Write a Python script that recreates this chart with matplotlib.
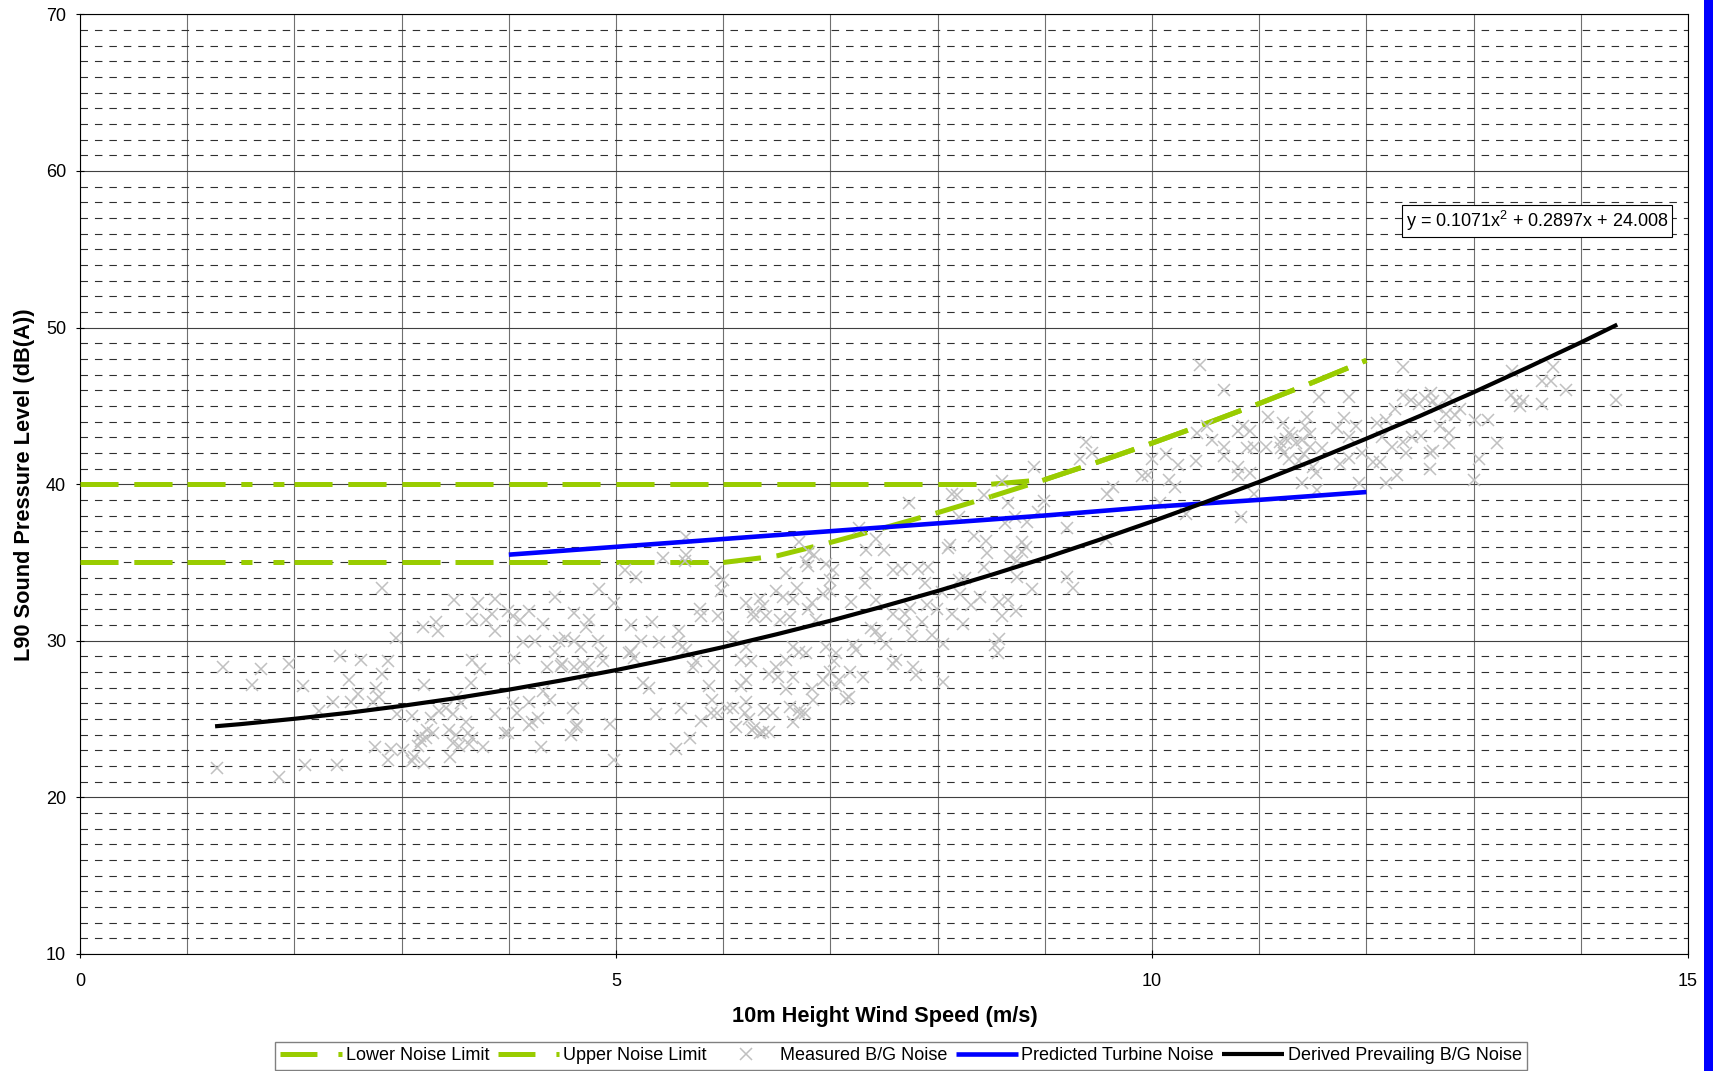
import matplotlib
matplotlib.use('Agg')
import matplotlib.pyplot as plt
from matplotlib.collections import LineCollection
from matplotlib.lines import Line2D
from matplotlib.patches import Rectangle
from matplotlib.ticker import MultipleLocator

plt.rcParams['font.family'] = ['Liberation Sans', 'DejaVu Sans']
plt.rcParams['lines.scale_dashes'] = False
plt.rcParams['mathtext.fontset'] = 'custom'
plt.rcParams['mathtext.rm'] = 'Liberation Sans'
plt.rcParams['mathtext.it'] = 'Liberation Sans'

# ---------------- data ----------------
limit_x = [0, 0.5, 1, 1.5, 2, 2.5, 3, 3.5, 4, 4.5, 5, 5.5, 6, 6.5, 7, 7.5, 8,
           8.5, 9, 9.5, 10, 10.5, 11, 11.5, 12]
lower_limit = [35, 35, 35, 35, 35, 35, 35, 35, 35, 35, 35, 35, 35, 35.42, 36.28,
               37.21, 38.18, 39.21, 40.29, 41.43, 42.62, 43.86, 45.15, 46.50, 47.91]
upper_limit = [40, 40, 40, 40, 40, 40, 40, 40, 40, 40, 40, 40, 40, 40, 40, 40, 40,
               40, 40.29, 41.43, 42.62, 43.86, 45.15, 46.50, 47.91]

turbine_x = [4, 5, 6, 7, 8, 9, 10, 11, 12]
turbine_y = [35.5, 36.0, 36.5, 37.0, 37.5, 38.0, 38.55, 39.0, 39.5]

bg_x = [1.26, 1.5, 2, 2.5, 3, 3.5, 4, 4.5, 5, 5.5, 6, 6.5, 7, 7.5, 8, 8.5, 9,
        9.5, 10, 10.5, 11, 11.5, 12, 12.5, 13, 13.5, 14, 14.34]
bg_y = [24.54, 24.68, 25.02, 25.40, 25.84, 26.33, 26.88, 27.48, 28.13, 28.84,
        29.60, 30.42, 31.28, 32.21, 33.18, 34.21, 35.29, 36.43, 37.62, 38.86,
        40.15, 41.50, 42.91, 44.36, 45.87, 47.44, 49.05, 50.19]

meas_x = [
    1.33, 1.69, 1.60, 1.95, 1.28, 1.86, 2.08, 2.10, 2.40, 2.43, 2.62, 2.87, 2.51, 2.82,
    2.76, 2.36, 2.53, 2.59, 2.23, 2.73, 2.79, 2.95, 2.82, 2.96, 2.75, 2.90, 2.87, 3.01,
    3.10, 3.21, 3.20, 3.32, 3.34, 3.49, 3.66, 3.71, 3.87, 3.84, 3.79, 3.87, 3.66, 3.73,
    3.65, 3.35, 3.41, 3.48, 3.55, 3.51, 3.27, 3.24, 3.17, 3.23, 3.29, 3.15, 3.18, 3.12,
    3.21, 3.10, 3.45, 3.44, 3.51, 3.48, 3.54, 3.62, 3.66, 3.63, 3.76, 3.60, 3.87, 3.96,
    3.99, 4.04, 4.10, 4.19, 4.32, 4.43, 4.61, 4.13, 4.24, 4.47, 4.52, 4.61, 4.05, 4.36,
    4.49, 4.43, 4.61, 4.32, 4.38, 4.19, 4.04, 4.08, 4.22, 4.27, 4.19, 3.99, 4.30, 4.58,
    4.63,
    4.75, 4.72, 4.67, 4.84, 4.98, 4.50, 4.69, 4.75, 4.86, 4.88, 4.83, 4.69, 4.60, 4.94,
    5.08, 5.19, 5.14, 5.34, 5.23, 5.40, 5.14, 5.17, 5.12, 5.25, 5.31, 5.37, 5.58, 5.62,
    5.65, 5.59, 5.75, 5.72, 5.79, 5.78, 5.95, 5.91, 5.65, 5.65, 5.64, 5.44, 5.61, 5.87,
    5.90, 5.79, 5.94, 5.89, 5.93, 6.00, 5.98, 6.09, 6.21, 6.28, 6.34, 6.37, 6.29, 6.40,
    6.21, 6.17, 6.26, 6.21, 6.17, 6.21, 6.04, 6.09, 6.20, 6.12, 6.27, 6.34, 6.38, 6.46,
    6.43, 6.49, 6.51, 6.59, 6.65, 6.62, 6.71, 6.65, 6.72, 6.49, 6.59, 6.69, 6.65, 6.56,
    6.53, 6.62, 6.65, 6.71, 6.77, 6.59, 6.71, 6.80, 6.85, 6.77, 6.79, 6.93, 6.83, 6.79,
    6.87, 6.83, 6.93, 6.96, 7.05, 7.03, 7.00, 6.96, 7.02, 7.00, 7.00, 7.19, 7.21, 7.24,
    7.18, 7.30, 7.15, 7.05, 7.08, 7.27, 7.33, 7.33, 7.32, 7.43, 7.50, 7.43, 7.38, 7.43,
    7.46, 7.52, 7.58, 7.58, 7.61, 7.58, 7.77, 7.80, 8.05,
    4.64, 4.98, 5.69, 5.56, 6.24, 6.29, 6.37, 6.43, 6.76, 6.84, 7.17,
    10.45, 10.67, 10.42, 10.51, 10.56, 10.67, 10.67, 10.41, 10.80, 10.85, 10.91, 10.89,
    10.80, 10.80, 10.83, 9.38, 9.44, 9.33, 8.90, 9.58, 9.64, 9.91, 9.96, 10.00, 10.13,
    10.24, 10.16, 10.21, 10.07, 10.32, 9.21, 9.57, 9.21, 9.26, 8.60, 8.13, 8.18, 8.43,
    8.66, 8.99, 8.94, 8.72, 8.83, 8.63, 8.20, 7.73, 8.34, 8.45, 8.12, 8.10, 8.46, 8.79,
    8.82, 8.79, 8.68, 8.74, 8.43, 8.74, 8.88, 7.82, 7.91, 7.67, 7.88, 8.20, 8.26, 8.04,
    8.21, 8.40, 8.31, 8.57, 8.66, 8.73, 8.60, 7.90, 7.74, 7.70, 7.99, 8.13, 8.24, 7.85,
    7.69, 7.95, 7.76, 8.05, 8.57, 8.54, 8.56,
    12.34, 11.56, 11.84, 11.08, 11.22, 11.28, 11.31, 11.25, 11.19, 11.20, 11.23, 11.28,
    11.34, 11.40, 11.45, 11.43, 11.47, 11.47, 11.42, 11.37, 10.95, 11.06, 10.91, 10.95,
    11.40, 11.54, 11.50, 11.53, 11.59, 11.73, 11.79, 11.84, 11.90, 11.75, 11.84, 11.93,
    11.96, 12.06, 12.13, 12.18, 12.29, 12.10, 12.18, 12.15, 12.24, 12.34, 12.37, 12.27,
    12.34, 12.42, 12.49, 12.55, 12.62, 12.60, 12.66, 12.77, 12.43, 12.51, 12.59, 12.62,
    12.59, 12.69, 12.77, 12.77, 12.74, 12.83, 12.87, 13.01, 13.13, 13.22, 13.05, 13.00,
    13.36, 13.74, 13.64, 13.72, 13.86, 13.35, 13.40, 13.46, 13.43, 13.64, 14.33,
]
meas_y = [
    28.3, 28.2, 27.2, 28.55, 21.9, 21.3, 27.1, 22.1, 22.1, 29.0, 28.8, 28.7, 27.5, 27.9,
    27.0, 26.1, 26.1, 26.6, 25.5, 26.1, 26.4, 30.2, 33.4, 25.3, 23.2, 23.1, 22.4, 23.0,
    25.2, 27.2, 30.9, 31.2, 30.6, 32.6, 31.4, 32.4, 32.7, 31.7, 31.3, 30.6, 28.8, 28.2,
    27.3, 25.5, 25.7, 25.3, 26.0, 26.4, 25.1, 24.3, 23.9, 23.8, 24.1, 23.3, 23.6, 22.6,
    22.2, 22.3, 22.6, 24.3, 24.0, 23.5, 23.3, 24.1, 23.8, 23.4, 23.2, 24.8, 25.3, 24.1,
    31.9, 31.6, 31.3, 31.9, 31.1, 32.8, 31.8, 29.9, 30.0, 30.0, 30.2, 30.0, 28.9, 28.3,
    28.4, 29.3, 28.3, 26.8, 26.2, 26.1, 26.0, 25.4, 24.8, 25.1, 24.6, 24.1, 23.2, 24.0,
    24.5,
    31.3, 30.9, 29.6, 33.3, 32.4, 28.55, 28.55, 28.3, 29.2, 28.7, 30.0, 27.3, 25.7, 24.7,
    34.5, 34.1, 31.0, 31.2, 30.0, 29.9, 29.3, 28.9, 29.2, 27.3, 27.0, 25.3, 29.9, 29.6,
    29.4, 30.6, 28.7, 28.3, 31.6, 32.0, 31.6, 28.4, 36.6, 35.5, 35.1, 35.3, 25.7, 27.1,
    26.2, 24.9, 25.4, 25.4, 34.4, 33.9, 33.2, 30.25, 32.4, 31.85, 32.7, 32.2, 31.5, 31.6,
    29.6, 28.8, 28.7, 27.5, 27.1, 26.1, 25.7, 25.7, 25.4, 24.5, 24.3, 24.1, 25.6, 25.4,
    27.9, 28.3, 27.7, 26.9, 27.7, 25.8, 25.6, 24.8, 25.3, 33.2, 34.3, 33.4, 32.7, 32.8,
    31.3, 31.5, 29.6, 29.3, 29.2, 28.8, 36.3, 35.7, 35.5, 35.0, 34.8, 33.0, 32.4, 32.0,
    31.3, 26.9, 27.5, 29.6, 29.2, 28.7, 28.0, 34.9, 34.5, 33.9, 33.2, 32.5, 29.7, 29.4,
    28.0, 27.7, 26.3, 27.1, 27.5, 37.2, 35.8, 34.3, 33.7, 36.5, 35.8, 32.6, 30.8, 30.6,
    30.15, 29.8, 34.5, 31.7, 28.8, 28.55, 28.3, 27.8, 27.4,
    24.6, 22.4, 23.8, 23.1, 25.0, 24.4, 24.2, 24.2, 25.4, 26.2, 26.4,
    47.6, 46.0, 43.3, 43.7, 42.8, 42.4, 41.8, 41.5, 43.4, 43.7, 43.4, 42.3,
    41.1, 40.6, 37.9, 42.7, 42.0, 41.6, 41.1, 39.4, 39.8, 40.5, 40.6, 41.6, 41.9,
    41.2, 40.3, 39.8, 38.8, 38.1, 37.2, 36.5, 34.1, 33.4, 40.2, 39.4, 39.3, 39.3,
    38.8, 38.9, 38.2, 37.9, 37.6, 37.5, 37.9, 38.8, 36.7, 36.4, 36.1, 35.9, 35.6, 36.3,
    36.0, 35.7, 35.4, 35.1, 34.7, 34.1, 33.3, 34.6, 34.7, 34.6, 33.7, 33.9, 34.0, 33.1,
    33.0, 32.8, 32.3, 32.5, 32.6, 31.9, 31.6, 32.3, 32.1, 31.7, 32.0, 31.7, 31.1, 31.2,
    31.1, 30.4, 30.3, 29.8, 30.1, 29.7, 29.2,
    47.5, 45.6, 45.6, 44.3, 43.9, 43.3, 43.1, 42.9, 42.7, 42.3, 42.0, 41.6,
    42.6, 42.8, 44.3, 43.7, 43.2, 42.4, 41.9, 41.5, 42.4, 42.4, 40.7, 39.4,
    40.1, 39.6, 41.1, 40.7, 42.3, 43.6, 44.2, 43.0, 43.7, 41.3, 41.7, 40.1,
    42.0, 41.4, 41.4, 40.1, 40.6, 43.9, 44.1, 43.0, 42.4, 42.7, 42.0, 44.8,
    45.7, 45.4, 45.1, 45.5, 45.3, 45.8, 44.9, 45.6, 43.0, 43.1, 42.0, 42.1,
    41.0, 43.7, 43.3, 42.6, 44.5, 44.4, 44.8, 44.1, 44.1, 42.6, 41.6, 40.3,
    47.2, 47.5, 46.6, 46.6, 46.0, 45.7, 45.3, 45.3, 45.0, 45.1, 45.4,
]

x_ticks = [0, 5, 10, 15]
y_ticks = [10, 20, 30, 40, 50, 60, 70]
equation = 'y = 0.1071x$^{2}$ + 0.2897x + 24.008'
labels = ['Lower Noise Limit', 'Upper Noise Limit', 'Measured B/G Noise',
          'Predicted Turbine Noise', 'Derived Prevailing B/G Noise']

# ---------------- styles ----------------
GREEN = '#99CC00'
GRAY_X = '#C0C0C0'
LONG = (0, (27.4, 11.2))
SPECIAL = (0, (7.9, 15.1, 7.9, 10.0))

W, H = 1713, 1071
fig = plt.figure(figsize=(W / 100, H / 100), dpi=100)
ax = fig.add_axes([80 / W, 117 / H, 1608 / W, 939.6 / H])

ax.set_xlim(0, 15)
ax.set_ylim(10, 70)
ax.set_xticks(x_ticks)
ax.set_yticks(y_ticks)
ax.xaxis.set_minor_locator(MultipleLocator(1))
ax.yaxis.set_minor_locator(MultipleLocator(1))
ax.set_axisbelow(True)

ax.grid(which='major', axis='x', color='#707070', lw=0.8, ls='-')
ax.grid(which='minor', axis='x', color='#707070', lw=0.8, ls='-')
ax.grid(which='major', axis='y', color='#404040', lw=0.8, ls='-')
ax.grid(which='minor', axis='y', color='#303030', lw=0.8, ls=(0, (5.4, 5.0)))

ax.tick_params(which='major', direction='inout', length=6, width=0.8,
               labelsize=13, color='black')
ax.tick_params(which='minor', length=0)
ax.tick_params(axis='x', pad=11)
ax.tick_params(axis='y', pad=7)
for sp in ax.spines.values():
    sp.set_linewidth(0.8)
    sp.set_color('black')


def make_segments(xv, yv):
    return [[(xv[i], yv[i]), (xv[i + 1], yv[i + 1])] for i in range(len(xv) - 1)]


def seg_styles(xv):
    return [SPECIAL if xv[i] == 1.5 else LONG for i in range(len(xv) - 1)]


lc_low = LineCollection(make_segments(limit_x, lower_limit), colors=GREEN,
                        linewidths=3.6, linestyles=seg_styles(limit_x),
                        capstyle='butt', zorder=3)
lc_up = LineCollection(make_segments(limit_x, upper_limit), colors=GREEN,
                       linewidths=3.6, linestyles=seg_styles(limit_x),
                       capstyle='butt', zorder=3)
ax.add_collection(lc_low)
ax.add_collection(lc_up)

ax.plot(meas_x, meas_y, ls='none', marker='x', ms=8.5, mew=1.1, color=GRAY_X, zorder=4)
ax.plot(turbine_x, turbine_y, color='#0000FF', lw=3.3, solid_capstyle='butt', zorder=5)
ax.plot(bg_x, bg_y, color='black', lw=3.0, solid_capstyle='butt', zorder=6)

ax.text(0.906, 0.780, equation, transform=ax.transAxes, ha='center', va='center',
        fontsize=13, zorder=10,
        bbox=dict(boxstyle='square,pad=0.22', fc='white', ec='black', lw=0.8))

ax.set_xlabel('10m Height Wind Speed (m/s)', fontsize=15.7, fontweight='bold')
ax.set_ylabel('L90 Sound Pressure Level (dB(A))', fontsize=15.7, fontweight='bold')
ax.xaxis.label.set_verticalalignment('center')
ax.yaxis.label.set_verticalalignment('center')
ax.xaxis.set_label_coords(0.5006, -0.067)
ax.yaxis.set_label_coords(-0.0348, 0.5)

h_green1 = Line2D([], [], color=GREEN, lw=3.6, dashes=(26.6, 15.1, 3.6, 20), dash_capstyle='butt')
h_green2 = Line2D([], [], color=GREEN, lw=3.6, dashes=(26.6, 15.1, 3.6, 20), dash_capstyle='butt')
h_meas = Line2D([], [], ls='none', marker='x', ms=8.5, mew=1.1, color=GRAY_X)
h_turb = Line2D([], [], color='#0000FF', lw=3.3, solid_capstyle='butt')
h_bg = Line2D([], [], color='black', lw=3.0, solid_capstyle='butt')
leg = fig.legend([h_green1, h_green2, h_meas, h_turb, h_bg], labels,
                 loc='center', bbox_to_anchor=(901 / W, 15 / H), ncol=5, fontsize=13,
                 handlelength=3.43, handletextpad=0.2, columnspacing=0.45,
                 borderpad=0.3, frameon=True, fancybox=False, framealpha=1,
                 edgecolor='#808080')
leg.get_frame().set_linewidth(1.0)

fig.add_artist(Rectangle((1704 / W, 0), 9 / W, 1, transform=fig.transFigure,
                         facecolor='#0000FF', edgecolor='none'))

fig.savefig('out.png', dpi=100, facecolor='white')
